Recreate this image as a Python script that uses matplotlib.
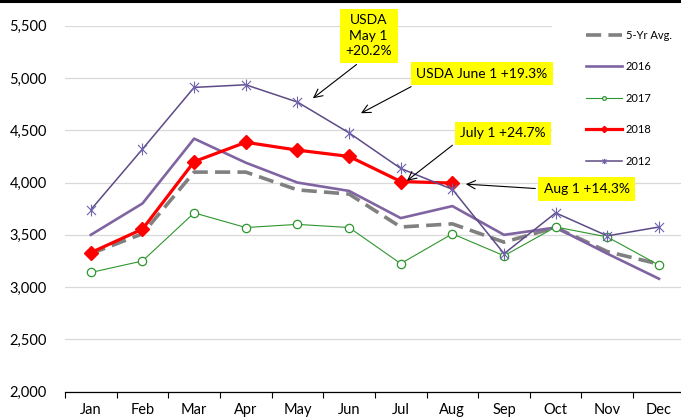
import numpy as np
import matplotlib
matplotlib.use("Agg")
import matplotlib.pyplot as plt
from matplotlib.path import Path
from matplotlib.lines import Line2D
from matplotlib.patches import Rectangle

plt.rcParams["font.family"] = ["Lato", "DejaVu Sans"]

# --- Daten ---
months = ["Jan", "Feb", "Mar", "Apr", "May", "Jun",
          "Jul", "Aug", "Sep", "Oct", "Nov", "Dec"]
avg5 = [3320, 3510, 4100, 4100, 3930, 3890, 3575, 3605, 3430, 3570, 3340, 3220]
y2016 = [3500, 3800, 4420, 4190, 4000, 3920, 3660, 3775, 3500, 3570, 3320, 3080]
y2017 = [3140, 3250, 3710, 3570, 3600, 3570, 3225, 3510, 3300, 3575, 3480, 3210]
y2018 = [3330, 3555, 4200, 4385, 4310, 4250, 4010, 3995]
y2012 = [3740, 4320, 4910, 4935, 4770, 4475, 4135, 3935, 3320, 3710, 3490, 3575]

# Annotationen: Text, Pfeilspitze (x, y), Textposition (x, y), Ansatzpunkt am Kasten
notes = [
    ("USDA\nMay 1\n+20.2%", (4.30, 4806), (5.38, 5404), (0.44, 0.0)),
    ("USDA June 1 +19.3%", (5.23, 4663), (7.57, 5040), (0.06, 0.0)),
    ("July 1 +24.7%", (6.12, 4017), (7.98, 4472), (0.0, 0.0)),
    ("Aug 1 +14.3%", (7.26, 3985), (9.60, 3938), (0.0, 0.5)),
]

x = np.arange(len(months))

# Stern-Marker (X mit senkrechtem Strich)
star = Path([(-1, -1), (1, 1), (-1, 1), (1, -1), (0, -1.3), (0, 1.3)],
            [Path.MOVETO, Path.LINETO, Path.MOVETO, Path.LINETO, Path.MOVETO, Path.LINETO])

fig = plt.figure(figsize=(6.81, 4.2), dpi=100)
ax = fig.add_axes([65 / 681, 28.3 / 420, 619.8 / 681, 366.0 / 420])

ax.plot(x, avg5, color="#808080", lw=2.6, linestyle=(0, (4.2, 2.0)), label="5-Yr Avg.", zorder=2)
ax.plot(x, y2016, color="#8064A2", lw=1.9, label="2016", zorder=2.1)
ax.plot(x, y2017, color="#2E962E", lw=0.8, marker="o", ms=6, mfc="white",
        mec="#2E962E", mew=0.9, label="2017", zorder=2.2)
ax.plot(x[:len(y2018)], y2018, color="#FF0000", lw=2.3, marker="D", ms=7,
        label="2018", zorder=2.3)
ax.plot(x, y2012, color="#5E4A86", lw=1.1, marker=star, ms=8.5, mec="#6E62AE",
        mew=0.8, label="2012", zorder=2.4)

ax.set_xlim(-0.5, 11.5)
ax.set_ylim(2000, 5500)
ax.set_yticks(np.arange(2000, 5501, 500))
ax.yaxis.set_major_formatter(matplotlib.ticker.StrMethodFormatter("{x:,.0f}"))
ax.set_xticks(x)
ax.set_xticklabels(months)
ax.set_xticks(np.arange(-0.5, 12, 1), minor=True)
ax.tick_params(axis="x", which="major", length=0, pad=8, labelsize=10.5)
ax.tick_params(axis="x", which="minor", length=4.5, width=0.8, direction="out")
ax.tick_params(axis="y", length=0, pad=13, labelsize=10.5)

ax.set_axisbelow(True)
ax.grid(axis="y", color="#D9D9D9", lw=0.9)
for s in ["top", "right", "left"]:
    ax.spines[s].set_visible(False)
ax.spines["bottom"].set_color("black")
ax.spines["bottom"].set_linewidth(0.9)

# weisser Legendenbereich über den Gitterlinien
ax.add_patch(Rectangle((552 / 681, (420 - 174) / 420), 140 / 681, 156 / 420,
                       transform=fig.transFigure, facecolor="white",
                       edgecolor="none", zorder=1.5))

leg = ax.legend(loc="upper left", bbox_to_anchor=(580 / 681, 1 - 24 / 420),
                bbox_transform=fig.transFigure, frameon=False, fontsize=8,
                handlelength=3.3, handletextpad=0.3, labelspacing=1.85,
                markerscale=0.45, borderpad=0)
leg.set_zorder(5)

for text, tip, pos, rel in notes:
    ax.annotate(text, xy=tip, xytext=pos, ha="center", va="center",
                fontsize=10, linespacing=1.35, zorder=4,
                bbox=dict(boxstyle="square,pad=0.4", fc="#FFFF00", ec="none"),
                arrowprops=dict(arrowstyle="->,head_length=0.6,head_width=0.3",
                                color="black", lw=0.8, relpos=rel,
                                shrinkA=2, shrinkB=0))

fig.add_artist(Line2D([0, 1], [0.997, 0.997], color="black", lw=2.2,
                      transform=fig.transFigure))

fig.savefig("out.png", dpi=100)
